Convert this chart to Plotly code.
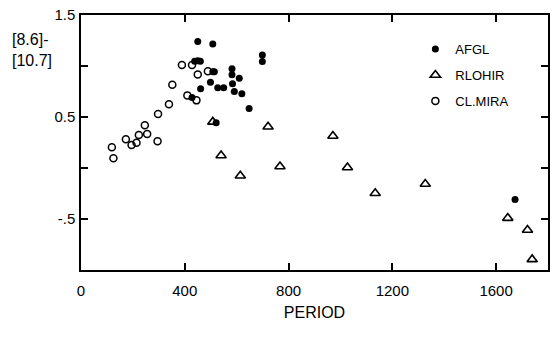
import plotly.graph_objects as go

# AFGL (filled circles)
afgl_period = [450, 508, 438, 450, 460, 508, 514, 499, 461, 527, 550, 582, 582, 610, 584,
               591, 620, 648, 699, 699, 428, 521, 1673]
afgl_color = [1.24, 1.215, 1.046, 1.052, 1.046, 0.943, 0.943, 0.841, 0.777, 0.787, 0.787, 0.972,
              0.913, 0.88, 0.826, 0.751, 0.729, 0.583, 1.108, 1.043, 0.69, 0.443, -0.309]

# RLOHIR (open triangles)
rlohir_period = [508, 721, 540, 767, 614, 971, 1027, 1134, 1327, 1645, 1721, 1739]
rlohir_color = [0.452, 0.404, 0.122, 0.015, -0.076, 0.313, 0.005, -0.248, -0.157, -0.491, -0.608, -0.896]

# CL.MIRA (open circles)
mira_period = [119, 125, 173, 195, 214, 223, 246, 255, 295, 297, 339, 352, 389, 410, 428,
               445, 450, 489]
mira_color = [0.203, 0.096, 0.281, 0.226, 0.248, 0.323, 0.42, 0.333, 0.262, 0.53, 0.624,
              0.816, 1.01, 0.712, 1.01, 0.663, 0.916, 0.948]

x_ticks = [0, 400, 800, 1200, 1600]
y_ticks = [-0.5, 0, 0.5, 1.0, 1.5]
y_ticktext = ["-.5", "", "0.5", "", "1.5"]

FONT = "Liberation Sans"

fig = go.Figure()
fig.add_trace(go.Scatter(
    x=afgl_period, y=afgl_color, mode="markers", name="AFGL", legendgroup="a",
    marker=dict(symbol="circle", size=7, color="black", line=dict(width=0)),
))
fig.add_trace(go.Scatter(
    x=rlohir_period, y=rlohir_color, mode="markers", name="RLOHIR", legendgroup="b",
    marker=dict(symbol="triangle-up-open", size=9, color="black", line=dict(width=1.6)),
))
fig.add_trace(go.Scatter(
    x=mira_period, y=mira_color, mode="markers", name="CL.MIRA", legendgroup="c",
    marker=dict(symbol="circle-open", size=7, color="black", line=dict(width=1.5)),
))

fig.update_layout(
    width=560, height=351,
    margin=dict(l=81, r=12, t=15, b=81, autoexpand=False),
    paper_bgcolor="white", plot_bgcolor="white",
    font=dict(family=FONT, size=15, color="black"),
    showlegend=True,
    legend=dict(x=0.716, y=0.925, xanchor="left", yanchor="top",
                font=dict(family=FONT, size=13), bgcolor="rgba(0,0,0,0)",
                tracegroupgap=6, itemwidth=30),
    xaxis=dict(range=[0, 1800], tickvals=x_ticks, ticks="inside", ticklen=7,
               tickwidth=1.5, tickcolor="black", showline=True, linewidth=1.5,
               linecolor="black", mirror="ticks", showgrid=False, zeroline=False,
               automargin=False, ticklabelstandoff=6,
               tickfont=dict(size=15),
               title=dict(text="PERIOD", font=dict(size=16), standoff=9)),
    yaxis=dict(range=[-1.0, 1.5], tickvals=y_ticks, ticktext=y_ticktext, ticks="inside",
               ticklen=7, tickwidth=1.5, tickcolor="black", showline=True, linewidth=1.5,
               linecolor="black", mirror="ticks", showgrid=False, zeroline=False,
               automargin=False, ticklabelstandoff=1,
               tickfont=dict(size=15)),
    annotations=[dict(text="[8.6]-<br>[10.7]", xref="paper", yref="paper",
                      x=-0.152, y=0.863, xanchor="left", yanchor="middle", align="left",
                      showarrow=False, font=dict(family=FONT, size=16))],
)

fig.write_html("out.html", config={"displayModeBar": False},
               post_script="document.body.style.margin='0';")
